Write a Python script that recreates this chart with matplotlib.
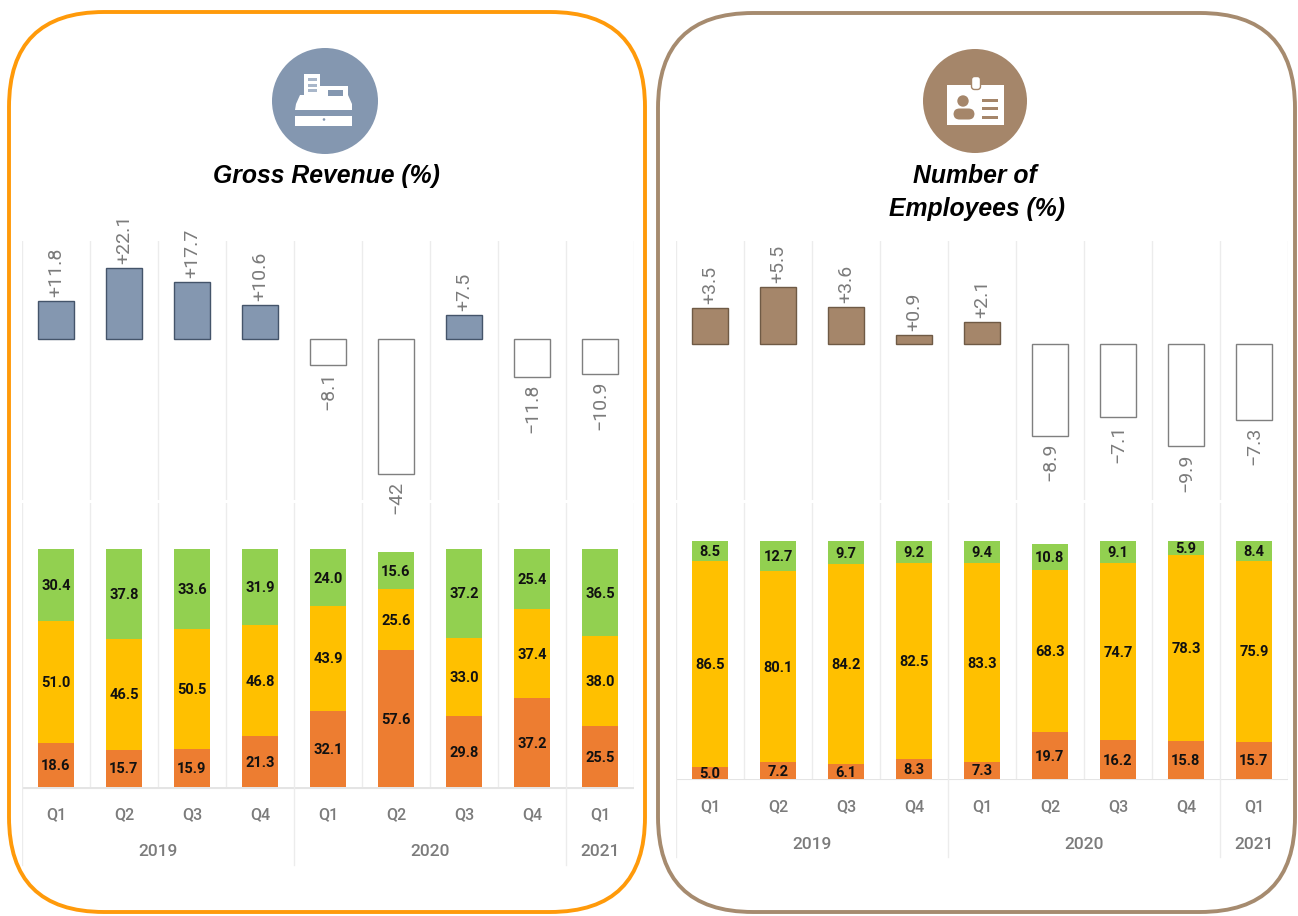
import matplotlib
matplotlib.use('Agg')
import matplotlib.pyplot as plt
from matplotlib.patches import Circle, FancyBboxPatch, Polygon, Rectangle

W, H = 1298, 916

quarters = ['Q1', 'Q2', 'Q3', 'Q4', 'Q1', 'Q2', 'Q3', 'Q4', 'Q1']
years = ['2019', '2020', '2021']

# gross revenue
rev_delta = [11.8, 22.1, 17.7, 10.6, -8.1, -42, 7.5, -11.8, -10.9]
rev_low = [18.6, 15.7, 15.9, 21.3, 32.1, 57.6, 29.8, 37.2, 25.5]
rev_mid = [51.0, 46.5, 50.5, 46.8, 43.9, 25.6, 33.0, 37.4, 38.0]
rev_high = [30.4, 37.8, 33.6, 31.9, 24.0, 15.6, 37.2, 25.4, 36.5]

# number of employees
emp_delta = [3.5, 5.5, 3.6, 0.9, 2.1, -8.9, -7.1, -9.9, -7.3]
emp_low = [5.0, 7.2, 6.1, 8.3, 7.3, 19.7, 16.2, 15.8, 15.7]
emp_mid = [86.5, 80.1, 84.2, 82.5, 83.3, 68.3, 74.7, 78.3, 75.9]
emp_high = [8.5, 12.7, 9.7, 9.2, 9.4, 10.8, 9.1, 5.9, 8.4]

GREY = '#7b7b7b'
LINE = '#ececec'
SANS = ['Roboto', 'DejaVu Sans']

fig = plt.figure(figsize=(W / 100, H / 100), dpi=100, facecolor='white')


def px_axes(x0, y0, x1, y1):
    return fig.add_axes([x0 / W, 1 - y1 / H, (x1 - x0) / W, (y1 - y0) / H])


# overlay in pixel coordinates for the frames and icons
deco = px_axes(0, 0, W, H)
deco.set_xlim(0, W)
deco.set_ylim(H, 0)
deco.axis('off')


def frame(x0, y0, x1, y1, color):
    r = 95
    deco.add_patch(FancyBboxPatch((x0 + r, y0 + r), x1 - x0 - 2 * r, y1 - y0 - 2 * r,
                                  boxstyle=f'round,pad={r},rounding_size={r}',
                                  fc='none', ec=color, lw=2.8))


frame(9, 12, 645, 912, '#FF9A0A')
frame(658, 13, 1295, 912, '#A68B6F')

# cash register icon
BLUE = '#8497B0'
deco.add_patch(Circle((325, 101), 53, fc=BLUE, ec='none'))
deco.add_patch(Polygon([(295, 110), (296, 104), (300, 95), (304, 95), (304, 74), (320, 74),
                        (320, 86), (348, 86), (348, 95), (352, 104), (352, 110)],
                       fc='white', ec='none'))
deco.add_patch(Rectangle((295, 116), 57, 9.5, fc='white', ec='none'))
deco.add_patch(Circle((324, 119.5), 1.3, fc=BLUE, ec='none'))
for y in [79, 84.5, 90]:
    deco.add_patch(Rectangle((308, y - 1), 9, 3, fc='#a9b7ca', ec='none'))
deco.add_patch(Rectangle((328, 90), 15, 5.5, fc=BLUE, ec='none'))

# id card icon
BROWN = '#A5866A'
deco.add_patch(Circle((975, 101), 52, fc=BROWN, ec='none'))
deco.add_patch(Rectangle((947, 85), 57, 40, fc='white', ec='none'))
deco.add_patch(FancyBboxPatch((973, 78), 6, 10, boxstyle='round,pad=1.5,rounding_size=3',
                              fc='white', ec=BROWN, lw=1))
deco.add_patch(Circle((963, 101), 5.7, fc=BROWN, ec='none'))
deco.add_patch(FancyBboxPatch((955, 110), 18, 8, boxstyle='round,pad=1.5,rounding_size=6',
                              fc=BROWN, ec='none'))
for y in [99, 107, 116]:
    deco.add_patch(Rectangle((982, y), 16, 3, fc=BROWN, ec='none'))

title_font = dict(family='Liberation Sans', fontsize=17.8, fontweight='bold',
                  fontstyle='italic', color='black', ha='center', va='center')
deco.text(326, 176, 'Gross Revenue (%)', **title_font)
deco.text(975, 176, 'Number of', **title_font)
deco.text(977, 209, 'Employees (%)', **title_font)


def delta_label(v):
    return f'{v:+g}'.replace('-', '\u2212')


def draw_panel(delta, low, mid, high, left, base_y, delta_scale, stack_bottom,
               pos_color, pos_edge, label_q_y, label_year_y, year_line_y):
    step = 68
    right = left + 9 * step
    xs = list(range(9))
    xlim = (-0.5, 8.5)

    # change bars
    top = px_axes(left, 241, right, 500)
    top.set_xlim(*xlim)
    top.set_ylim(-(500 - base_y) / delta_scale, (base_y - 241) / delta_scale)
    top.axis('off')
    for edge in range(10):
        top.axvline(edge - 0.5, color=LINE, lw=1, zorder=1)
    for x, v in zip(xs, delta):
        if v > 0:
            top.bar(x, v, width=0.54, color=pos_color, edgecolor=pos_edge, lw=1, zorder=2)
            top.annotate(delta_label(v), (x, v), xytext=(0.5, 3), textcoords='offset points',
                         rotation=90, ha='center', va='bottom', color=GREY,
                         fontsize=14, family=SANS, annotation_clip=False)
        else:
            top.bar(x, v, width=0.54, color='white', edgecolor='#7f7f7f', lw=1, zorder=2)
            top.annotate(delta_label(v), (x, v), xytext=(0.5, -5), textcoords='offset points',
                         rotation=90, ha='center', va='top', color=GREY,
                         fontsize=14, family=SANS, annotation_clip=False)

    # stacked shares
    bot = px_axes(left, 503, right, stack_bottom)
    bot.set_xlim(*xlim)
    bot.set_ylim(0, (stack_bottom - 503) / 2.38)
    bot.axis('off')
    for edge in range(10):
        bot.axvline(edge - 0.5, color=LINE, lw=1, zorder=1)
    bottoms = [0] * 9
    for vals, color in zip([low, mid, high], ['#ED7D31', '#FFC000', '#92D050']):
        bot.bar(xs, vals, width=0.54, bottom=bottoms, color=color, zorder=2)
        for x, v, b in zip(xs, vals, bottoms):
            bot.annotate(f'{v:.1f}', (x, b + v / 2), xytext=(0, -0.8), textcoords='offset points',
                         ha='center', va='center', color='#111111', fontsize=10.5,
                         fontweight='bold', family=SANS, zorder=3, annotation_clip=False)
        bottoms = [b + v for b, v in zip(bottoms, vals)]

    # axis labels underneath
    axis_ax = px_axes(left, stack_bottom, right, stack_bottom + 90)
    axis_ax.set_xlim(*xlim)
    axis_ax.set_ylim(stack_bottom + 90, stack_bottom)
    axis_ax.axis('off')
    axis_ax.axhline(stack_bottom + 0.5, color='#e4e4e4', lw=1.5)
    for x, q in zip(xs, quarters):
        axis_ax.text(x, label_q_y, q, ha='center', va='center', color=GREY,
                     fontsize=11.5, fontweight='medium', family=SANS)
    for edge in [-0.5, 3.5, 7.5]:
        axis_ax.plot([edge, edge], [stack_bottom, year_line_y], color=LINE, lw=1)
    for cx, year in zip([1.5, 5.5, 8], years):
        axis_ax.text(cx, label_year_y, year, ha='center', va='center', color=GREY,
                     fontsize=12.5, fontweight='medium', family=SANS)


draw_panel(rev_delta, rev_low, rev_mid, rev_high, 22, 339, 3.22, 787,
           BLUE, '#44546A', 815, 852, 865)
draw_panel(emp_delta, emp_low, emp_mid, emp_high, 676, 344, 10.35, 779,
           BROWN, '#6f5a45', 807, 845, 857)

fig.savefig('out.png', dpi=100)
